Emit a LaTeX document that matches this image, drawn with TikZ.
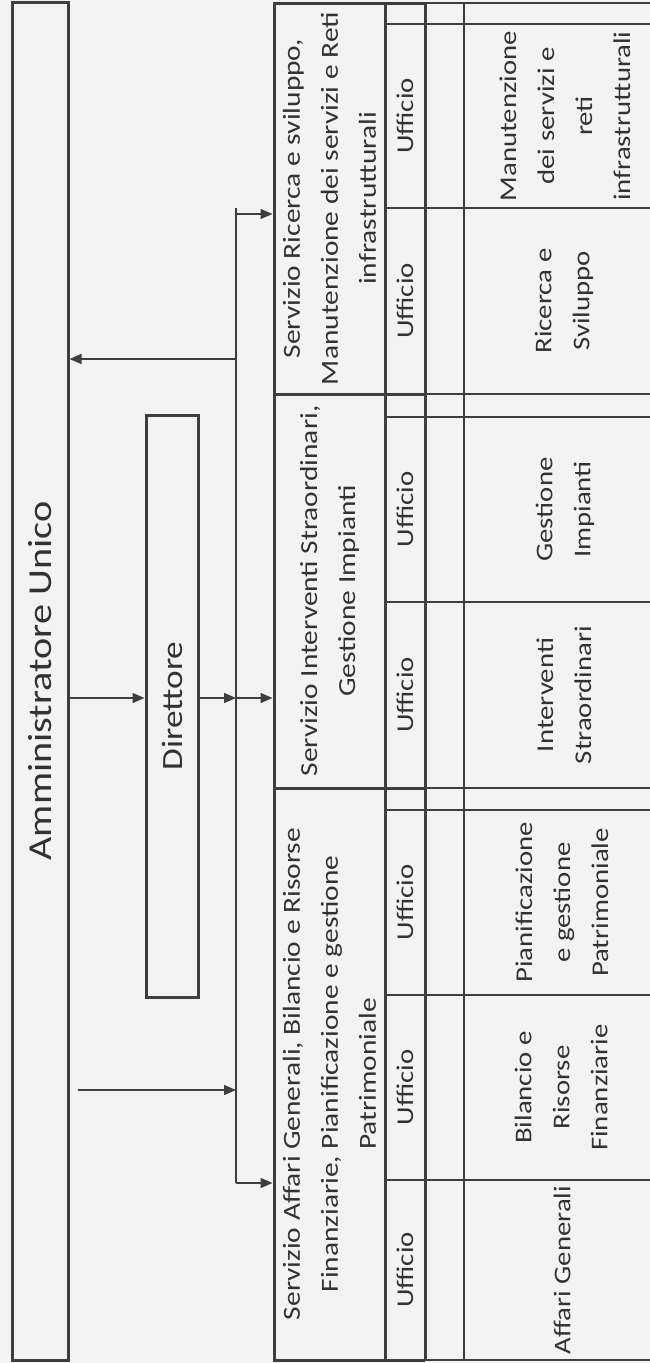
\documentclass[tikz,border=0pt]{standalone}
\usepackage{fontspec}
\setmainfont{Carlito}[FakeStretch=1.2]
\usetikzlibrary{arrows.meta}
\definecolor{scanbg}{RGB}{243,243,243}
\definecolor{inkline}{RGB}{62,62,62}
\definecolor{inktext}{RGB}{50,50,50}

\begin{document}
\begin{tikzpicture}[x=1pt, y=-1pt,
    box/.style={draw=inkline, line width=3pt, rotate=90, inner sep=0pt, align=center, text=inktext},
    cell/.style={rotate=90, align=center, text=inktext, font=\fontsize{24}{38}\selectfont},
    link/.style={draw=inkline, line width=1.4pt, -{Triangle[length=12pt,width=10pt]}},
    thickrule/.style={draw=inkline, line width=3pt},
    thinrule/.style={draw=inkline, line width=1.8pt}]

    % Page
    \fill[scanbg] (0,0) rectangle (650,1363);
    \useasboundingbox (0,0) rectangle (650,1363);
    \clip (0,0) rectangle (650,1363);

    % Top levels
    \node[box, minimum width=1358pt, minimum height=56pt, font=\fontsize{33.5}{40}\selectfont] (admin) at (40,681) {Amministratore Unico};
    \node[box, minimum width=582pt, minimum height=52pt, font=\fontsize{29.4}{35}\selectfont] (dir) at (172,706) {Direttore};

    % Servizi
    \node[box, minimum width=391pt, minimum height=111pt, font=\fontsize{24.5}{38}\selectfont] (srd) at (329.5,198.5)
        {Servizio Ricerca e sviluppo,\\Manutenzione dei servizi e Reti\\infrastrutturali};
    \node[box, minimum width=394pt, minimum height=111pt, font=\fontsize{24.5}{38}\selectfont] (sis) at (329.5,591)
        {Servizio Interventi Straordinari,\\Gestione Impianti};
    \node[box, minimum width=572pt, minimum height=111pt, font=\fontsize{24.5}{38}\selectfont] (sag) at (329.5,1074)
        {Servizio Affari Generali, Bilancio e Risorse\\Finanziarie, Pianificazione e gestione\\Patrimoniale};

    % Grid of the offices
    \foreach \y in {3,394,788,1360} {
        \draw[thickrule] (385,\y) -- (425,\y);
        \draw[thinrule] (425,\y) -- (680,\y);
    }
    \foreach \y in {24,208,417,602,810,995,1180}
        \draw[thinrule] (385,\y) -- (680,\y);
    \draw[thickrule] (385,3) -- (385,1360);
    \draw[thickrule] (425,3) -- (425,1360);
    \draw[thinrule] (464,3) -- (464,1360);

    \foreach \y [count=\i] in {116,301,509.5,695,902.5,1087.5,1270}
        \node[cell] (uff\i) at (405,\y) {Ufficio};

    \node[cell] (man) at (565,116) {Manutenzione\\dei servizi e\\reti\\infrastrutturali};
    \node[cell] (ric) at (564,301) {Ricerca e\\Sviluppo};
    \node[cell] (ges) at (565,509.5) {Gestione\\Impianti};
    \node[cell] (int) at (564,695) {Interventi\\Straordinari};
    \node[cell] (pia) at (562,902.5) {Pianificazione\\e gestione\\Patrimoniale};
    \node[cell] (bil) at (561,1087.5) {Bilancio e\\Risorse\\Finanziarie};
    \node[cell] (aff) at (562,1270) {Affari Generali};

    % Connectors
    \coordinate (bustop) at (236,208);
    \coordinate (r1) at (236,214);
    \coordinate (r2) at (236,359);
    \coordinate (r3) at (236,698);
    \coordinate (r6) at (236,1090);
    \coordinate (r7) at (236,1183);
    \draw[inkline, line width=2pt] (bustop) -- (r7);

    \draw[link] (r1) -- (r1 -| srd.north);
    \draw[link] (r2) -- (r2 -| admin.south);
    \draw[link] (r3 -| admin.south) -- (r3 -| dir.north);
    \draw[link] (r3 -| dir.south) -- (r3);
    \draw[link] (r3) -- (r3 -| sis.north);
    \draw[link, shorten <=8pt] (r6 -| admin.south) -- (r6);
    \draw[link] (r7) -- (r7 -| sag.north);
\end{tikzpicture}
\end{document}
